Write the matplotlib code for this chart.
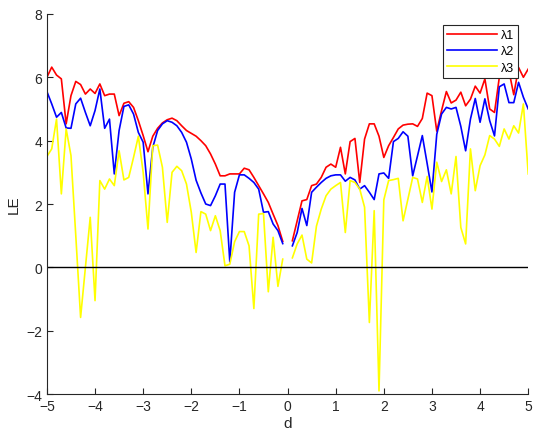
import numpy as np
import matplotlib
matplotlib.use("Agg")
import matplotlib.pyplot as plt

plt.rcParams['font.family'] = ['Liberation Sans', 'DejaVu Sans']

# d runs from -5 to 5 in steps of 0.1; d = 0 is left out (NaN)
d = np.round(np.arange(-50, 51) * 0.1, 1)

le1_neg = [6.0, 6.32, 6.07, 5.95, 4.53, 5.42, 5.87, 5.77, 5.47, 5.63,
           5.49, 5.79, 5.42, 5.47, 5.47, 4.79, 5.18, 5.23, 5.05, 4.63,
           4.16, 3.65, 4.14, 4.39, 4.56, 4.66, 4.71, 4.63, 4.47, 4.32,
           4.23, 4.14, 4.0, 3.84, 3.58, 3.26, 2.89, 2.89, 2.95, 2.95,
           2.95, 3.13, 3.08, 2.84, 2.58, 2.32, 2.05, 1.68, 1.32, 0.82]
le1_pos = [0.84, 1.47, 2.1, 2.14, 2.58, 2.63, 2.84, 3.16, 3.26, 3.16,
           3.79, 2.95, 3.97, 4.07, 2.68, 4.05, 4.53, 4.53, 4.14, 3.47,
           3.84, 4.1, 4.37, 4.49, 4.52, 4.53, 4.45, 4.7, 5.5, 5.42,
           4.3, 4.95, 5.55, 5.19, 5.28, 5.53, 5.1, 5.31, 5.72, 5.5,
           5.95, 5.0, 4.89, 6.0, 6.05, 6.2, 5.45, 6.31, 6.0, 6.26]

le2_neg = [5.55, 5.16, 4.74, 4.89, 4.40, 4.39, 5.16, 5.34, 4.89, 4.47,
           4.95, 5.63, 4.39, 4.68, 2.95, 4.32, 5.08, 5.13, 4.84, 4.26,
           3.95, 2.32, 3.79, 4.32, 4.53, 4.63, 4.58, 4.47, 4.26, 3.95,
           3.42, 2.75, 2.35, 2.0, 1.95, 2.26, 2.63, 2.63, 0.18, 2.37,
           2.92, 2.92, 2.81, 2.68, 2.47, 1.74, 1.76, 1.37, 1.16, 0.75]
le2_pos = [0.68, 1.1, 1.86, 1.32, 2.37, 2.53, 2.68, 2.81, 2.89, 2.92,
           2.92, 2.72, 2.84, 2.76, 2.47, 2.58, 2.37, 2.14, 2.95, 2.98,
           2.81, 3.97, 4.07, 4.28, 4.14, 2.89, 3.52, 4.16, 3.28, 2.38,
           4.2, 4.84, 5.05, 5.0, 5.05, 4.45, 3.68, 4.68, 5.33, 4.58,
           5.32, 4.63, 4.15, 5.7, 5.79, 5.2, 5.2, 5.84, 5.37, 5.0]

le3_neg = [3.5, 3.74, 4.68, 2.32, 4.37, 3.53, 1.0, -1.58, 0.0, 1.58,
           -1.05, 2.74, 2.47, 2.79, 2.58, 3.68, 2.76, 2.84, 3.47, 4.14,
           3.0, 1.21, 3.84, 3.86, 3.16, 1.42, 3.0, 3.19, 3.05, 2.63,
           1.74, 0.47, 1.76, 1.68, 1.16, 1.63, 1.16, 0.05, 0.1, 0.81,
           1.13, 1.13, 0.68, -1.3, 1.68, 1.7, -0.77, 0.95, -0.6, 0.26]
le3_pos = [0.3, 0.74, 1.02, 0.26, 0.14, 1.3, 1.84, 2.26, 2.47, 2.58,
           2.68, 1.1, 2.74, 2.68, 2.47, 1.9, -1.74, 1.79, -3.9, 2.13,
           2.74, 2.77, 2.81, 1.47, 2.15, 2.84, 2.79, 2.05, 2.87, 1.84,
           3.32, 2.71, 3.08, 2.32, 3.5, 1.26, 0.74, 3.74, 2.42, 3.21,
           3.55, 4.16, 4.05, 3.82, 4.37, 4.05, 4.47, 4.24, 5.16, 2.95]

le1 = np.array(le1_neg + [np.nan] + le1_pos)
le2 = np.array(le2_neg + [np.nan] + le2_pos)
le3 = np.array(le3_neg + [np.nan] + le3_pos)

fig = plt.figure(figsize=(5.33, 4.39), dpi=100)
ax = fig.add_axes([0.088, 0.100, 0.903, 0.866])

ax.plot(d, le1, color='red', lw=1.2, label='λ1')
ax.plot(d, le2, color='blue', lw=1.2, label='λ2')
ax.plot(d, le3, color='yellow', lw=1.2, label='λ3')
ax.plot([-5, 5], [0, 0], color='black', lw=1.0)

ax.set_xlim(-5, 5)
ax.set_ylim(-4, 8)
ax.set_xticks(np.arange(-5, 6, 1))
ax.set_yticks(np.arange(-4, 9, 2))
ax.spines['top'].set_visible(False)
ax.spines['right'].set_visible(False)
for s in ('left', 'bottom'):
    ax.spines[s].set_color('#262626')
    ax.spines[s].set_linewidth(0.8)
ax.tick_params(direction='in', length=4, width=0.8, colors='#262626',
               labelsize=10, labelcolor='#262626')

ax.set_xlabel('d', fontsize=11, color='#262626', labelpad=2)
ax.set_ylabel('LE', fontsize=11, color='#262626', labelpad=4)

leg = ax.legend(loc='upper right', bbox_to_anchor=(0.978, 0.97), fontsize=9,
                frameon=True, fancybox=False, framealpha=1,
                edgecolor='#262626', handlelength=4.0, handletextpad=0.3,
                labelspacing=0.35, borderpad=0.3, borderaxespad=0)
leg.get_frame().set_linewidth(0.8)

fig.savefig('out.png', dpi=100)
